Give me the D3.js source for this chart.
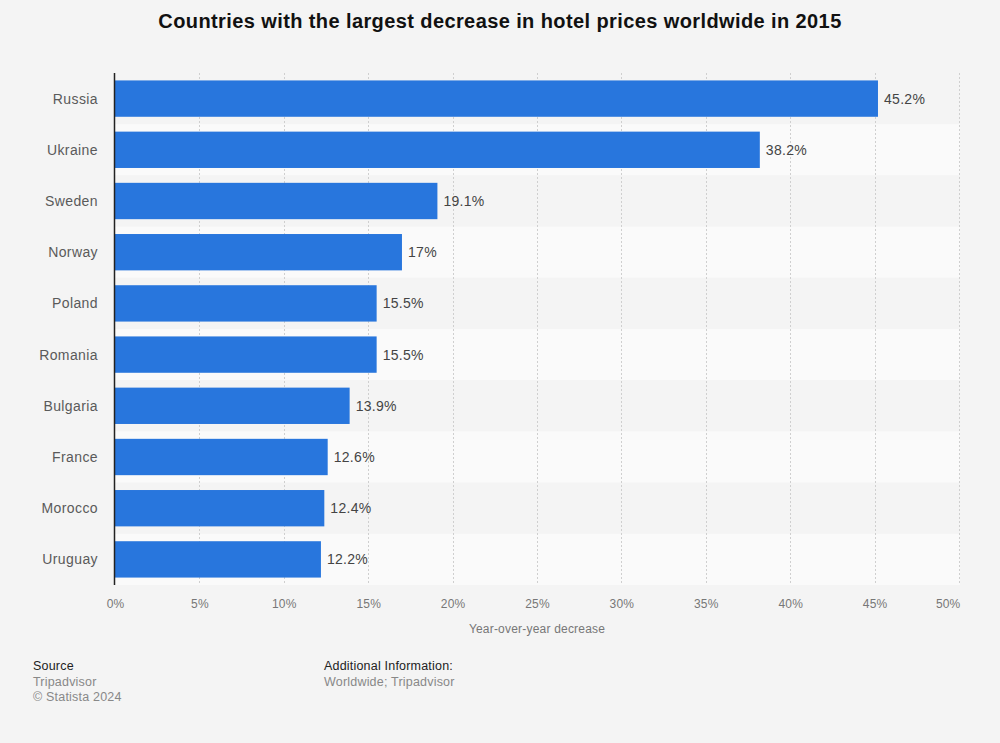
<!DOCTYPE html>
<html><head><meta charset="utf-8">
<script src="https://cdn.jsdelivr.net/npm/d3@7"></script>
<style>
body{margin:0;background:#f4f4f4;}
svg{display:block;font-family:"Liberation Sans",Arial,sans-serif;}
</style></head>
<body>
<svg id="c" width="1000" height="743"></svg>
<script>
const categories = ["Russia","Ukraine","Sweden","Norway","Poland","Romania","Bulgaria","France","Morocco","Uruguay"];
const values = [45.2,38.2,19.1,17,15.5,15.5,13.9,12.6,12.4,12.2];
const valueLabels = ["45.2%","38.2%","19.1%","17%","15.5%","15.5%","13.9%","12.6%","12.4%","12.2%"];
const xTicks = [0,5,10,15,20,25,30,35,40,45,50];

const svg = d3.select("#c");
const m = {l:115, r:959, t:73, b:585};
const x = d3.scaleLinear().domain([0,50]).range([m.l, m.r]);
const y = d3.scaleBand().domain(categories).range([m.t, m.b]).paddingInner(0.29).paddingOuter(0.145);
const yRow = d3.scaleBand().domain(categories).range([m.t, m.b]);

svg.append("rect").attr("width",1000).attr("height",743).attr("fill","#f4f4f4");

svg.append("text").attr("x",500).attr("y",28).attr("text-anchor","middle")
  .attr("font-size",20).attr("font-weight","bold").attr("fill","#111")
  .attr("letter-spacing",0.4)
  .text("Countries with the largest decrease in hotel prices worldwide in 2015");

// row stripes
svg.append("g").selectAll("rect").data(categories).join("rect")
  .attr("x",m.l).attr("width",m.r-m.l+1)
  .attr("y",d=>yRow(d)).attr("height",yRow.bandwidth())
  .attr("fill",(d,i)=> i%2===0 ? "#f4f4f4" : "#fafafa");

// grid
svg.append("g").selectAll("line").data(xTicks.slice(1)).join("line")
  .attr("x1",d=>Math.round(x(d))+0.5).attr("x2",d=>Math.round(x(d))+0.5).attr("y1",m.t).attr("y2",m.b)
  .attr("stroke","#cfcfcf").attr("stroke-dasharray","2,2").attr("stroke-width",1);

// bars
svg.append("g").selectAll("rect").data(values).join("rect")
  .attr("x",x(0)).attr("y",(d,i)=>y(categories[i]))
  .attr("width",d=>x(d)-x(0)).attr("height",y.bandwidth())
  .attr("fill","#2876dd");

// value labels
svg.append("g").selectAll("text").data(values).join("text")
  .attr("x",d=>x(d)+6).attr("y",(d,i)=>y(categories[i])+y.bandwidth()/2)
  .attr("dy","0.35em").attr("font-size",14).attr("letter-spacing",0.3).attr("fill","#444")
  .text((d,i)=>valueLabels[i]);

// y labels
svg.append("g").selectAll("text").data(categories).join("text")
  .attr("x",98).attr("y",d=>y(d)+y.bandwidth()/2).attr("dy","0.35em")
  .attr("text-anchor","end").attr("font-size",14).attr("letter-spacing",0.4)
  .attr("fill","#5a5a5a").text(d=>d);

// y axis line
svg.append("line").attr("x1",m.l-0.5).attr("x2",m.l-0.5).attr("y1",m.t).attr("y2",m.b)
  .attr("stroke","#222").attr("stroke-width",1.5);

// x axis
const xa = svg.append("g").attr("transform",`translate(0,${m.b})`)
  .call(d3.axisBottom(x).tickValues(xTicks).tickFormat(d=>d+"%").tickSize(0).tickPadding(14));
xa.select(".domain").remove();
xa.selectAll("text").attr("font-size",12).attr("fill","#777").attr("letter-spacing",0.2)
  .attr("font-family","Liberation Sans,Arial,sans-serif")
  .attr("text-anchor",d=>d===50?"end":"middle")
  .attr("dx",d=>d===50?1:0);

svg.append("text").attr("x",(m.l+m.r)/2).attr("y",633).attr("text-anchor","middle")
  .attr("font-size",12).attr("letter-spacing",0.2).attr("fill","#777").text("Year-over-year decrease");

// footer
const f = svg.append("g").attr("font-size",12.5).attr("letter-spacing",0.2);
f.append("text").attr("x",33).attr("y",670).attr("fill","#222").text("Source");
f.append("text").attr("x",33).attr("y",686).attr("fill","#888").text("Tripadvisor");
f.append("text").attr("x",33).attr("y",701).attr("fill","#888").text("© Statista 2024");
f.append("text").attr("x",324).attr("y",670).attr("fill","#222").text("Additional Information:");
f.append("text").attr("x",324).attr("y",686).attr("fill","#888").text("Worldwide; Tripadvisor");
</script>
</body></html>
